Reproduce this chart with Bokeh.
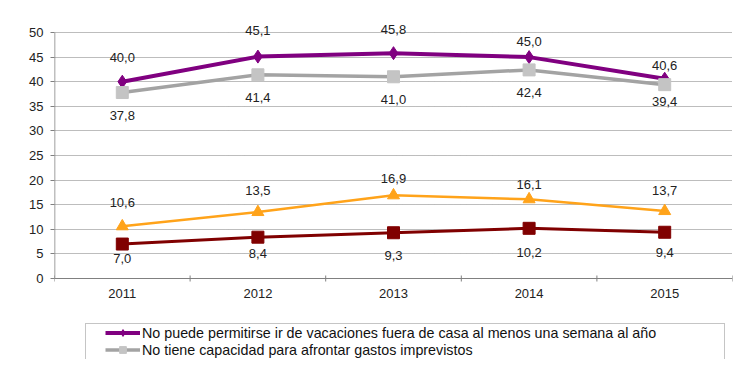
import numpy as np
from bokeh.plotting import figure
from bokeh.models import (ColumnDataSource, Range1d, FixedTicker, LabelSet,
                          Legend, LegendItem)
from bokeh.core.properties import value
from bokeh.embed import file_html
from bokeh.resources import INLINE

years = ["2011", "2012", "2013", "2014", "2015"]
vacaciones = [40.0, 45.1, 45.8, 45.0, 40.6]
imprevistos = [37.8, 41.4, 41.0, 42.4, 39.4]
dificultad = [10.6, 13.5, 16.9, 16.1, 13.7]
retrasos = [7.0, 8.4, 9.3, 10.2, 9.4]

names = [
    "No puede permitirse ir de vacaciones fuera de casa al menos una semana al año",
    "No tiene capacidad para afrontar gastos imprevistos",
    "Mucha dificultad para llegar a fin de mes",
    "Retrasos en el pago de gastos de la vivienda principal",
]
y_ticks = [0, 5, 10, 15, 20, 25, 30, 35, 40, 45, 50]
y_max = 50

# label nudges in screen pixels (style only; negative = above the point)
nudge_vac = [-24, -26, -24, -16, -13]
nudge_imp = [23, 23, 23, 23, 17]
nudge_dif = [-24, -22, -17, -15, -21]
nudge_ret = [14, 16, 23, 24, 20]

FONT = "Liberation Sans"
W, H = 734, 359
TOP, LEFT, RIGHT = 32, 54, 2       # pixel position of the value frame
AXIS_PX = 246                      # pixel height of the 0..50 value span
px = AXIS_PX / y_max
y_end = y_max + TOP / px
y_start = y_end - H / px

xs = [i + 0.5 for i in range(len(years))]
bounds = list(range(len(years) + 1))

p = figure(width=W, height=H, output_backend="svg", toolbar_location=None,
           x_range=Range1d(0, len(years)), y_range=Range1d(y_start, y_end),
           x_axis_location=None,
           min_border_left=LEFT, min_border_right=RIGHT, min_border_top=0,
           min_border_bottom=0)
p.outline_line_color = None
p.background_fill_color = "white"

# y axis (ticks + labels from axis, line drawn only over 0..50)
p.yaxis.ticker = FixedTicker(ticks=y_ticks)
p.yaxis.major_tick_in = 0
p.yaxis.major_tick_out = 4
p.yaxis.minor_tick_line_color = None
p.yaxis.major_tick_line_color = "#808080"
p.yaxis.axis_line_color = None
p.yaxis.major_label_standoff = 7
p.yaxis.major_label_text_font = FONT
p.yaxis.major_label_text_font_size = "13px"
p.yaxis.major_label_text_color = "#222222"
p.segment(x0=[0], y0=[0], x1=[0], y1=[y_max], line_color="#808080", line_width=1.5)

p.xgrid.grid_line_color = None
p.ygrid.ticker = FixedTicker(ticks=y_ticks)
p.ygrid.grid_line_color = "#7a7a7a"
p.ygrid.grid_line_dash = "1 1"
p.ygrid.grid_line_width = 1

# x axis drawn at value 0
p.segment(x0=[0], y0=[0], x1=[len(years)], y1=[0], line_color="#808080", line_width=1.2)
p.scatter(x=bounds, y=[0] * len(bounds), marker="dash", angle=np.pi / 2, size=6,
          line_color="#808080", line_width=1)
ysrc = ColumnDataSource(dict(x=xs, y=[0] * len(xs), t=years))
p.add_layout(LabelSet(x="x", y="y", text="t", source=ysrc, y_offset=-15,
                      text_align="center", text_baseline="middle",
                      text_font=value(FONT), text_font_size=value("13px"),
                      text_color="#222222"))

series = [
    (vacaciones, nudge_vac, "#800080", "#800080", 4, "diamond", 13, 8),
    (imprevistos, nudge_imp, "#A3A3A3", "#C4C4C4", 3.5, "square", 12, 8),
    (dificultad, nudge_dif, "#FFA31A", "#FFA31A", 2.5, "triangle", 12, 8),
    (retrasos, nudge_ret, "#800000", "#800000", 3, "square", 12, 8),
]

# legend-only source: no drawable points (missing values), used just for the key
key_src = ColumnDataSource(dict(x=xs, y=[float("nan")] * len(xs)))

items = []
for (vals, nudge, lc, mc, lw, mk, ms, lms), name in zip(series, names):
    src = ColumnDataSource(dict(x=xs, y=vals, dy=[-d for d in nudge],
                                lab=[f"{v:.1f}".replace(".", ",") for v in vals]))
    p.line("x", "y", source=src, line_color=lc, line_width=lw)
    p.scatter("x", "y", source=src, marker=mk, size=ms, fill_color=mc,
              line_color=mc)
    g1 = p.line("x", "y", source=key_src, line_color=lc, line_width=lw)
    g2 = p.scatter("x", "y", source=key_src, marker=mk, size=lms,
                   fill_color=mc, line_color=mc)
    items.append(LegendItem(label=name, renderers=[g1, g2]))
    p.add_layout(LabelSet(x="x", y="y", text="lab", source=src, y_offset="dy",
                          text_align="center", text_baseline="middle",
                          text_font=value(FONT), text_font_size=value("13px"),
                          text_color="#222222"))

# legend box (border only)
dummy = p.line("x", "y", source=key_src, line_alpha=0)
box = Legend(items=[LegendItem(label=" ", renderers=[dummy])],
             location=(31, -38), padding=0, spacing=0, margin=0,
             glyph_width=1, glyph_height=72, label_width=637, label_height=72,
             label_standoff=0, border_line_color="#8c8c8c", border_line_width=1,
             background_fill_color="white", background_fill_alpha=1)
p.add_layout(box, "center")

leg = Legend(items=items[:3], location=(51, -16), padding=0, spacing=0,
             margin=0, glyph_width=35, glyph_height=17, label_height=17,
             label_standoff=2, border_line_color=None, background_fill_alpha=0,
             label_text_font=FONT, label_text_font_size="14.3px",
             label_text_color="#111111")
p.add_layout(leg, "center")

open("out.html", "w").write(file_html(p, INLINE))
